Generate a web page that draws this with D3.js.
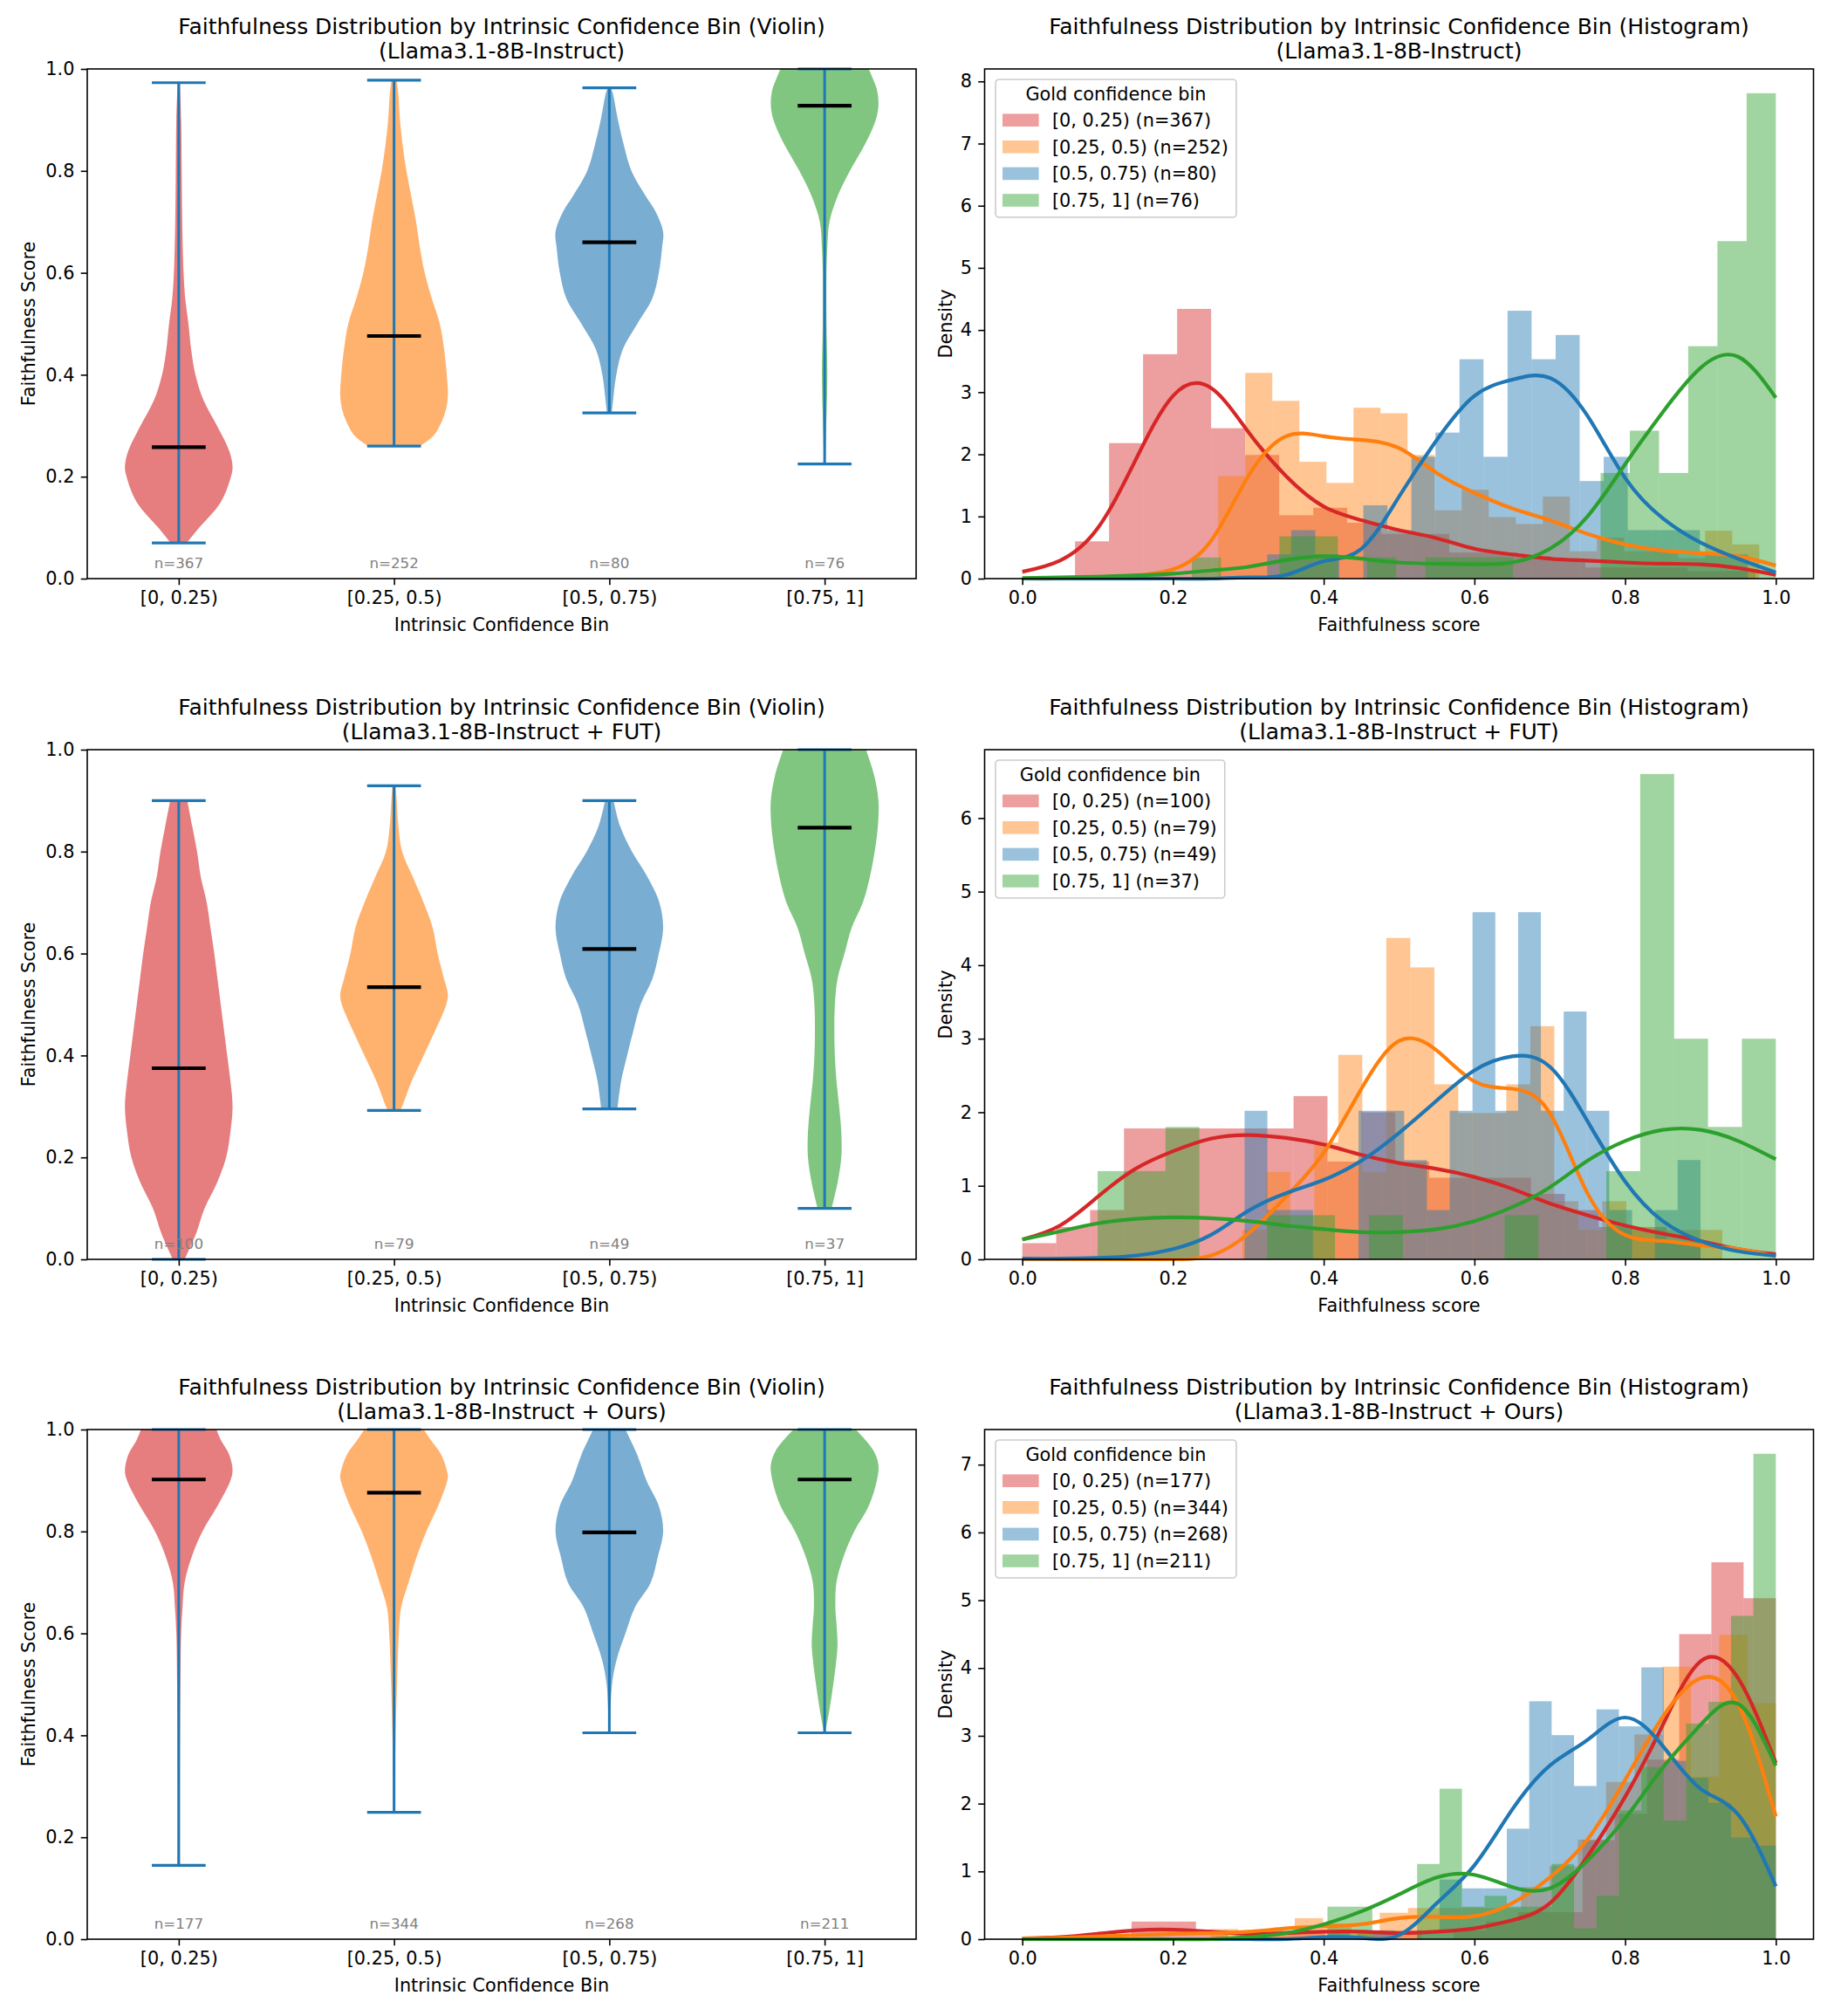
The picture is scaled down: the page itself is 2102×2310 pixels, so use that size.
<!DOCTYPE html>
<html>
<head>
<meta charset="utf-8">
<script src="https://cdn.jsdelivr.net/npm/d3@7"></script>
<style>
body { margin: 0; background: #fff; }
text { font-family: "DejaVu Sans", sans-serif; }
</style>
</head>
<body>
<div id="chart"></div>
<script>
// categories and series
var binLabels = ["[0, 0.25)", "[0.25, 0.5)", "[0.5, 0.75)", "[0.75, 1]"];
var binColors = ["#d62728", "#ff7f0e", "#1f77b4", "#2ca02c"];
var modelNames = ["Llama3.1-8B-Instruct", "Llama3.1-8B-Instruct + FUT", "Llama3.1-8B-Instruct + Ours"];
var counts = [[367, 252, 80, 76], [100, 79, 49, 37], [177, 344, 268, 211]];

// min / max / median faithfulness per bin (also the histogram ranges)
var scoreMin = [[0.07, 0.26, 0.325, 0.225], [0.0, 0.292, 0.295, 0.1], [0.145, 0.249, 0.405, 0.405]];
var scoreMax = [[0.973, 0.978, 0.963, 1.0], [0.9, 0.929, 0.9, 1.0], [1.0, 1.0, 1.0, 1.0]];
var medians = [[0.258, 0.476, 0.66, 0.928], [0.375, 0.534, 0.609, 0.847], [0.902, 0.876, 0.798, 0.902]];

// violin outlines: [score, relative half width]
var violin1 = [
  [[0.07,0.15],[0.1,0.38],[0.15,0.78],[0.2,0.97],[0.22,1.0],[0.25,0.94],[0.3,0.71],[0.35,0.46],[0.4,0.31],[0.45,0.23],[0.5,0.18],[0.55,0.12],[0.6,0.09],[0.7,0.065],[0.8,0.055],[0.9,0.045],[0.973,0.02]],
  [[0.26,0.48],[0.28,0.73],[0.3,0.85],[0.33,0.96],[0.36,1.0],[0.4,0.98],[0.45,0.93],[0.5,0.85],[0.55,0.7],[0.6,0.57],[0.65,0.48],[0.7,0.41],[0.75,0.32],[0.8,0.23],[0.85,0.16],[0.9,0.11],[0.95,0.08],[0.978,0.05]],
  [[0.325,0.045],[0.35,0.07],[0.4,0.13],[0.45,0.25],[0.5,0.52],[0.55,0.8],[0.6,0.92],[0.65,0.98],[0.68,1.0],[0.72,0.86],[0.75,0.68],[0.8,0.41],[0.85,0.27],[0.9,0.16],[0.95,0.07],[0.963,0.03]],
  [[0.225,0.01],[0.3,0.03],[0.4,0.05],[0.5,0.035],[0.6,0.035],[0.65,0.05],[0.7,0.09],[0.75,0.24],[0.8,0.47],[0.85,0.74],[0.9,0.95],[0.93,1.0],[0.96,0.97],[0.98,0.9],[1.0,0.82]]
];
var violin2 = [
  [[0.0,0.11],[0.05,0.32],[0.1,0.48],[0.15,0.71],[0.2,0.88],[0.25,0.96],[0.3,1.0],[0.35,0.96],[0.4,0.9],[0.45,0.84],[0.5,0.78],[0.55,0.72],[0.6,0.66],[0.65,0.59],[0.7,0.52],[0.75,0.41],[0.8,0.34],[0.85,0.25],[0.9,0.16]],
  [[0.292,0.11],[0.3,0.15],[0.35,0.33],[0.4,0.55],[0.45,0.77],[0.5,0.97],[0.52,1.0],[0.55,0.93],[0.6,0.81],[0.65,0.72],[0.7,0.55],[0.75,0.35],[0.8,0.15],[0.85,0.08],[0.9,0.05],[0.929,0.03]],
  [[0.295,0.15],[0.35,0.22],[0.4,0.33],[0.45,0.45],[0.5,0.58],[0.55,0.8],[0.6,0.92],[0.65,1.0],[0.7,0.93],[0.75,0.71],[0.8,0.42],[0.85,0.2],[0.9,0.08]],
  [[0.1,0.13],[0.15,0.24],[0.2,0.31],[0.25,0.31],[0.3,0.27],[0.35,0.22],[0.4,0.19],[0.45,0.18],[0.5,0.19],[0.55,0.24],[0.6,0.37],[0.65,0.5],[0.7,0.71],[0.75,0.84],[0.8,0.93],[0.85,0.99],[0.9,1.0],[0.95,0.92],[1.0,0.77]]
];
var violin3 = [
  [[0.145,0.02],[0.3,0.02],[0.5,0.03],[0.6,0.045],[0.65,0.07],[0.7,0.11],[0.75,0.24],[0.8,0.44],[0.85,0.72],[0.9,0.96],[0.92,1.0],[0.95,0.94],[0.98,0.78],[1.0,0.7]],
  [[0.249,0.01],[0.4,0.03],[0.5,0.055],[0.6,0.09],[0.65,0.13],[0.7,0.27],[0.75,0.42],[0.8,0.6],[0.85,0.82],[0.9,0.99],[0.91,1.0],[0.95,0.88],[0.98,0.68],[1.0,0.55]],
  [[0.405,0.01],[0.5,0.05],[0.55,0.14],[0.6,0.3],[0.65,0.47],[0.7,0.77],[0.75,0.9],[0.8,1.0],[0.85,0.92],[0.9,0.69],[0.95,0.52],[1.0,0.3]],
  [[0.405,0.01],[0.45,0.09],[0.5,0.16],[0.55,0.22],[0.58,0.24],[0.62,0.22],[0.65,0.2],[0.7,0.22],[0.75,0.35],[0.8,0.55],[0.85,0.82],[0.9,0.97],[0.93,1.0],[0.96,0.9],[1.0,0.58]]
];

// histogram densities, 20 equal bins between scoreMin and scoreMax of each series
var hist1 = [
  [0.6,2.18,3.61,4.34,2.42,1.99,1.02,1.14,0.9,0.72,0.72,0.42,0.42,0.36,0.3,0.18,0.18,0.18,0.12,0.12],
  [1.65,3.31,2.86,1.88,1.54,2.75,2.66,1.99,1.1,1.43,0.99,0.88,1.32,0.44,0.66,0.44,0.44,0.33,0.77,0.55],
  [0.39,0.78,0.39,0,1.18,0.78,1.96,2.35,3.53,1.96,4.31,3.53,3.92,1.57,1.96,0.78,0.78,0.78,0.39,0.39],
  [0.34,0,0,0.68,0.68,0,0.34,0,0.34,0.34,0.34,0,0,0,1.7,2.38,1.7,3.74,5.43,7.81]
];
var hist2 = [
  [0.22,0.44,0.67,1.78,1.78,1.78,1.78,1.78,2.22,1.33,2.0,1.33,1.11,1.11,1.11,0.89,0.67,0.44,0.44,0.22],
  [0.4,1.19,0.4,1.59,2.78,1.19,4.37,3.97,2.38,1.99,1.99,2.38,3.17,0.79,0.4,0.79,0.4,0.4,0.4,0.4],
  [2.02,0.67,0.67,0,0,2.02,2.02,1.35,0.67,2.02,4.72,2.02,4.72,2.02,3.37,2.02,0.67,0,0.67,1.35],
  [1.2,1.2,1.8,0,0,0.6,0.6,0,0.6,0,0,0,0.6,0,0,1.2,6.6,3.0,1.8,3.0]
];
var hist3 = [
  [0.26,0.26,0.13,0,0.13,0.13,0,0.13,0.13,0,0.13,0.26,0.4,0.4,1.46,1.85,2.65,4.5,5.56,5.03],
  [0.15,0.08,0.08,0.31,0.23,0.08,0.39,0.46,0.46,0.46,0.46,0.77,1.08,1.47,2.32,3.02,4.02,2.4,4.49,3.48],
  [0.13,0,0.13,0,0.13,0.88,0.75,0.75,1.63,3.51,3.01,2.26,3.39,3.14,4.01,2.63,2.38,2.01,1.5,1.38],
  [0.48,0.48,0,0,1.11,2.22,0.48,0.64,0.48,0.48,1.11,0.16,0.64,1.9,2.54,1.75,3.18,3.5,4.77,7.16]
];

// KDE curves sampled at faithfulness 0, 0.05, ..., 1.0
var kdeX = [0,0.05,0.1,0.15,0.2,0.25,0.3,0.35,0.4,0.45,0.5,0.55,0.6,0.65,0.7,0.75,0.8,0.85,0.9,0.95,1.0];
var kde1 = [
  [0.11,0.29,0.81,1.9,2.94,3.07,2.36,1.65,1.16,0.94,0.78,0.65,0.48,0.39,0.32,0.29,0.26,0.24,0.23,0.17,0.06],
  [0,0,0.02,0.05,0.15,0.6,1.65,2.29,2.29,2.23,2.1,1.7,1.38,1.13,0.94,0.72,0.55,0.45,0.41,0.36,0.21],
  [0,0,0,0,0,0,0.02,0.06,0.28,0.48,1.32,2.23,2.94,3.2,3.23,2.62,1.62,0.97,0.58,0.32,0.1],
  [0.01,0.02,0.03,0.05,0.08,0.13,0.19,0.3,0.36,0.32,0.26,0.24,0.23,0.26,0.48,1.0,1.84,2.68,3.39,3.57,2.91]
];
var kde2 = [
  [0.27,0.46,0.85,1.23,1.47,1.64,1.69,1.65,1.56,1.42,1.31,1.23,1.12,0.96,0.76,0.6,0.46,0.35,0.25,0.14,0.07],
  [0,0,0,0,0,0.05,0.35,0.85,1.45,2.32,2.97,2.84,2.42,2.32,1.99,0.9,0.33,0.25,0.19,0.14,0.04],
  [0.01,0.01,0.02,0.05,0.14,0.33,0.66,0.9,1.08,1.34,1.72,2.16,2.57,2.76,2.62,1.88,1.06,0.52,0.25,0.11,0.05],
  [0.27,0.38,0.49,0.55,0.57,0.56,0.52,0.46,0.41,0.37,0.37,0.41,0.52,0.71,0.98,1.34,1.61,1.76,1.76,1.61,1.36]
];
var kde3 = [
  [0.01,0.03,0.08,0.13,0.14,0.11,0.08,0.09,0.11,0.11,0.09,0.11,0.16,0.28,0.53,1.22,2.1,3.16,4.1,3.85,2.6],
  [0.01,0.02,0.04,0.06,0.08,0.09,0.11,0.16,0.19,0.22,0.31,0.33,0.34,0.53,0.91,1.47,2.35,3.28,3.85,3.47,1.81],
  [0,0,0,0,0,0,0,0,0.03,0.02,0.06,0.53,1.09,1.91,2.56,2.94,3.27,2.85,2.22,1.84,0.78],
  [0,0,0,0,0,0,0.03,0.09,0.22,0.41,0.66,0.91,0.95,0.77,0.75,1.16,1.78,2.53,3.16,3.47,2.56]
];

var violins = [violin1, violin2, violin3];
var hists = [hist1, hist2, hist3];
var kdes = [kde1, kde2, kde3];

// layout
var W = 2102, H = 2310;
var rowTop = [79, 859, 1638], axH = 584;
var colLeft = [100, 1128.5], axW = 950;

var svg = d3.select("#chart").append("svg")
    .attr("width", W)
    .attr("height", H);

function styleAxis(sel) {
    sel.attr("font-family", "DejaVu Sans, sans-serif").attr("font-size", 20.8);
    sel.select(".domain").remove();
    sel.selectAll(".tick line").attr("stroke", "#000").attr("stroke-width", 1.6);
    sel.selectAll(".tick text").attr("fill", "#000");
}

function titles(g, kind, r) {
    g.append("text").attr("x", axW / 2).attr("y", -40)
        .attr("text-anchor", "middle").style("font-size", "25px")
        .text("Faithfulness Distribution by Intrinsic Confidence Bin (" + kind + ")");
    g.append("text").attr("x", axW / 2).attr("y", -12)
        .attr("text-anchor", "middle").style("font-size", "25px")
        .text("(" + modelNames[r] + ")");
}

function labels(g, xlab, ylab, yx) {
    g.append("text").attr("x", axW / 2).attr("y", axH + 60)
        .attr("text-anchor", "middle").style("font-size", "20.8px").text(xlab);
    g.append("text").attr("transform", "translate(" + yx + "," + (axH / 2) + ") rotate(-90)")
        .attr("text-anchor", "middle").style("font-size", "20.8px").text(ylab);
}

function frame(g) {
    g.append("rect").attr("width", axW).attr("height", axH)
        .attr("fill", "none").attr("stroke", "#000").attr("stroke-width", 1.6);
}

// violin panels
function drawViolin(r) {
    var g = svg.append("g").attr("transform", "translate(" + colLeft[0] + "," + rowTop[r] + ")");
    var x = d3.scaleLinear().domain([0.575, 4.425]).range([0, axW]);
    var y = d3.scaleLinear().domain([0, 1]).range([axH, 0]);
    var half = x(1.25) - x(1);
    var cap = half / 2;

    violins[r].forEach(function (prof, i) {
        var cx = x(i + 1);
        g.append("path")
            .attr("d", d3.area()
                .y(function (d) { return y(d[0]); })
                .x0(function (d) { return cx - half * d[1]; })
                .x1(function (d) { return cx + half * d[1]; })
                .curve(d3.curveCatmullRom)(prof))
            .attr("fill", binColors[i])
            .attr("fill-opacity", 0.6);
    });

    violins[r].forEach(function (prof, i) {
        var cx = x(i + 1);
        var lc = "#1f77b4";
        g.append("line").attr("x1", cx).attr("x2", cx)
            .attr("y1", y(scoreMin[r][i])).attr("y2", y(scoreMax[r][i]))
            .attr("stroke", lc).attr("stroke-width", 3);
        [scoreMin[r][i], scoreMax[r][i]].forEach(function (v) {
            g.append("line").attr("x1", cx - cap).attr("x2", cx + cap)
                .attr("y1", y(v)).attr("y2", y(v))
                .attr("stroke", lc).attr("stroke-width", 3.2);
        });
        g.append("line").attr("x1", cx - cap).attr("x2", cx + cap)
            .attr("y1", y(medians[r][i])).attr("y2", y(medians[r][i]))
            .attr("stroke", "#000").attr("stroke-width", 4.2);
        g.append("text").attr("x", cx).attr("y", y(0.03))
            .attr("dy", "0.35em").attr("text-anchor", "middle")
            .attr("fill", "#808080").style("font-size", "16.7px")
            .text("n=" + counts[r][i]);
    });

    var xa = g.append("g").attr("transform", "translate(0," + axH + ")")
        .call(d3.axisBottom(x).tickValues([1, 2, 3, 4])
            .tickFormat(function (d) { return binLabels[d - 1]; })
            .tickSize(7.3).tickPadding(7.3));
    styleAxis(xa);
    var ya = g.append("g")
        .call(d3.axisLeft(y).tickValues([0, 0.2, 0.4, 0.6, 0.8, 1.0])
            .tickFormat(d3.format(".1f")).tickSize(7.3).tickPadding(7.3));
    styleAxis(ya);
    frame(g);
    titles(g, "Violin", r);
    labels(g, "Intrinsic Confidence Bin", "Faithfulness Score", -60);
}

// histogram panels
function drawHist(r) {
    var g = svg.append("g").attr("transform", "translate(" + colLeft[1] + "," + rowTop[r] + ")");
    var x = d3.scaleLinear().domain([-0.05, 1.05]).range([0, axW]);
    var top = d3.max(hists[r], function (s) { return d3.max(s); });
    var y = d3.scaleLinear().domain([0, top * 1.05]).range([axH, 0]);

    hists[r].forEach(function (s, i) {
        var lo = scoreMin[r][i], bw = (scoreMax[r][i] - lo) / s.length;
        g.append("g").selectAll("rect")
            .data(s.map(function (h, j) { return { x0: lo + j * bw, x1: lo + (j + 1) * bw, h: h }; })
                .filter(function (d) { return d.h > 0; }))
            .enter().append("rect")
            .attr("x", function (d) { return x(d.x0); })
            .attr("width", function (d) { return x(d.x1) - x(d.x0); })
            .attr("y", function (d) { return y(d.h); })
            .attr("height", function (d) { return axH - y(d.h); })
            .attr("fill", binColors[i])
            .attr("fill-opacity", 0.45);
    });

    kdes[r].forEach(function (s, i) {
        g.append("path")
            .attr("d", d3.line()
                .x(function (d, j) { return x(kdeX[j]); })
                .y(function (d) { return y(d); })
                .curve(d3.curveNatural)(s))
            .attr("fill", "none")
            .attr("stroke", binColors[i])
            .attr("stroke-width", 4.2);
    });

    var xa = g.append("g").attr("transform", "translate(0," + axH + ")")
        .call(d3.axisBottom(x).tickValues([0, 0.2, 0.4, 0.6, 0.8, 1.0])
            .tickFormat(d3.format(".1f")).tickSize(7.3).tickPadding(7.3));
    styleAxis(xa);
    var ya = g.append("g")
        .call(d3.axisLeft(y).tickValues(d3.range(0, Math.floor(top * 1.05) + 1))
            .tickFormat(d3.format("d")).tickSize(7.3).tickPadding(7.3));
    styleAxis(ya);
    frame(g);
    titles(g, "Histogram", r);
    labels(g, "Faithfulness score", "Density", -38);

    // legend
    var lg = g.append("g").attr("transform", "translate(12.5,12)");
    var box = lg.append("rect").attr("rx", 4).attr("ry", 4)
        .attr("fill", "#fff").attr("fill-opacity", 0.8)
        .attr("stroke", "#cccccc").attr("stroke-width", 1.6);
    var ttl = lg.append("text").attr("y", 24).attr("text-anchor", "middle")
        .style("font-size", "20.8px").text("Gold confidence bin");
    var maxW = 0;
    binLabels.forEach(function (b, i) {
        var cy = 46.7 + i * 30.6;
        lg.append("rect").attr("x", 8).attr("y", cy - 7.3)
            .attr("width", 41.6).attr("height", 14.6)
            .attr("fill", binColors[i]).attr("fill-opacity", 0.45);
        var t = lg.append("text").attr("x", 65).attr("y", cy).attr("dy", "0.35em")
            .style("font-size", "20.8px")
            .text(b + " (n=" + counts[r][i] + ")");
        maxW = Math.max(maxW, t.node().getComputedTextLength());
    });
    var bw = 65 + maxW + 9;
    box.attr("width", bw).attr("height", 158);
    ttl.attr("x", bw / 2);
}

[0, 1, 2].forEach(function (r) {
    drawViolin(r);
    drawHist(r);
});
</script>
</body>
</html>
